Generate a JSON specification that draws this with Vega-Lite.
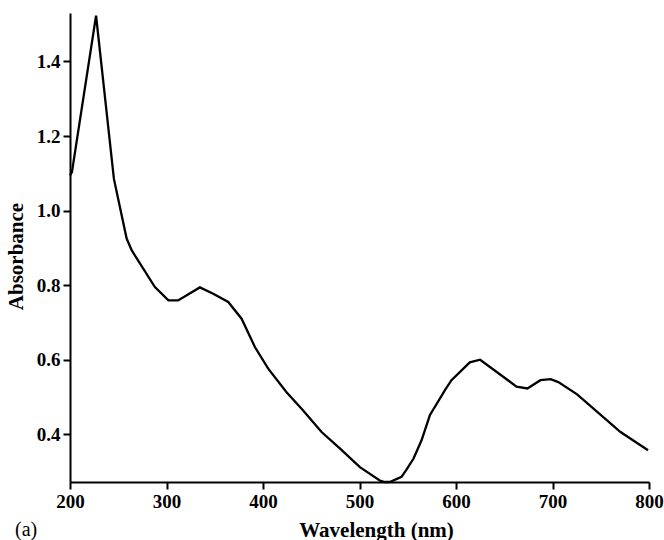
{
  "$schema": "https://vega.github.io/schema/vega-lite/v6.json",
  "width": 579,
  "height": 469,
  "autosize": {"type": "none"},
  "padding": {"left": 70, "top": 13, "right": 15, "bottom": 58},
  "background": "white",
  "config": {
    "view": {"stroke": null},
    "font": "Liberation Serif"
  },
  "title": {
    "text": "(a)",
    "orient": "bottom",
    "anchor": "start",
    "frame": "group",
    "dx": -55,
    "offset": -20,
    "font": "Liberation Serif",
    "fontSize": 20,
    "fontWeight": "normal",
    "color": "black"
  },
  "data": {
    "values": [
      {"wavelength": 200, "absorbance": 1.094},
      {"wavelength": 202, "absorbance": 1.103},
      {"wavelength": 227, "absorbance": 1.523},
      {"wavelength": 245.5, "absorbance": 1.085},
      {"wavelength": 258.7, "absorbance": 0.925},
      {"wavelength": 264, "absorbance": 0.893},
      {"wavelength": 288, "absorbance": 0.795},
      {"wavelength": 302, "absorbance": 0.759},
      {"wavelength": 312, "absorbance": 0.759},
      {"wavelength": 334.6, "absorbance": 0.794},
      {"wavelength": 348.4, "absorbance": 0.777},
      {"wavelength": 364, "absorbance": 0.755},
      {"wavelength": 377.8, "absorbance": 0.71},
      {"wavelength": 391.6, "absorbance": 0.634},
      {"wavelength": 405.4, "absorbance": 0.576},
      {"wavelength": 424.4, "absorbance": 0.513},
      {"wavelength": 441.6, "absorbance": 0.464},
      {"wavelength": 460.7, "absorbance": 0.406},
      {"wavelength": 479.6, "absorbance": 0.362},
      {"wavelength": 500.4, "absorbance": 0.312},
      {"wavelength": 521, "absorbance": 0.276},
      {"wavelength": 526, "absorbance": 0.272},
      {"wavelength": 531.4, "absorbance": 0.272},
      {"wavelength": 543.6, "absorbance": 0.286},
      {"wavelength": 548.7, "absorbance": 0.305},
      {"wavelength": 556, "absorbance": 0.335},
      {"wavelength": 564.3, "absorbance": 0.384},
      {"wavelength": 572.9, "absorbance": 0.451},
      {"wavelength": 588.4, "absorbance": 0.518},
      {"wavelength": 595.3, "absorbance": 0.545},
      {"wavelength": 614.3, "absorbance": 0.593},
      {"wavelength": 625, "absorbance": 0.6},
      {"wavelength": 662.7, "absorbance": 0.528},
      {"wavelength": 674, "absorbance": 0.523},
      {"wavelength": 687.5, "absorbance": 0.545},
      {"wavelength": 698, "absorbance": 0.548},
      {"wavelength": 706, "absorbance": 0.54},
      {"wavelength": 725.5, "absorbance": 0.507},
      {"wavelength": 770.5, "absorbance": 0.406},
      {"wavelength": 799, "absorbance": 0.357}
    ]
  },
  "mark": {"type": "line", "color": "black", "strokeWidth": 2.3, "clip": false},
  "encoding": {
    "x": {
      "field": "wavelength",
      "type": "quantitative",
      "scale": {"domain": [200, 800], "nice": false, "zero": false},
      "axis": {
        "title": "Wavelength (nm)",
        "values": [200, 300, 400, 500, 600, 700, 800],
        "grid": false,
        "domainColor": "black",
        "domainWidth": 2,
        "tickColor": "black",
        "tickWidth": 2,
        "tickSize": 7,
        "labelFont": "Liberation Serif",
        "labelFontSize": 19,
        "labelFontWeight": "bold",
        "labelColor": "black",
        "labelPadding": 3,
        "labelFlush": false,
        "titleFont": "Liberation Serif",
        "titleFontSize": 21,
        "titleFontWeight": "bold",
        "titleColor": "black",
        "titlePadding": 8,
        "titleX": 306
      }
    },
    "y": {
      "field": "absorbance",
      "type": "quantitative",
      "scale": {"domain": [0.272, 1.53], "nice": false, "zero": false},
      "axis": {
        "title": "Absorbance",
        "values": [0.4, 0.6, 0.8, 1.0, 1.2, 1.4],
        "format": ".1f",
        "grid": false,
        "domainColor": "black",
        "domainWidth": 2,
        "tickColor": "black",
        "tickWidth": 2,
        "tickSize": 7,
        "labelFont": "Liberation Serif",
        "labelFontSize": 19,
        "labelFontWeight": "bold",
        "labelColor": "black",
        "labelPadding": 3,
        "labelFlush": false,
        "titleFont": "Liberation Serif",
        "titleFontSize": 21,
        "titleFontWeight": "bold",
        "titleColor": "black",
        "titlePadding": 10,
        "titleY": 243
      }
    }
  }
}
